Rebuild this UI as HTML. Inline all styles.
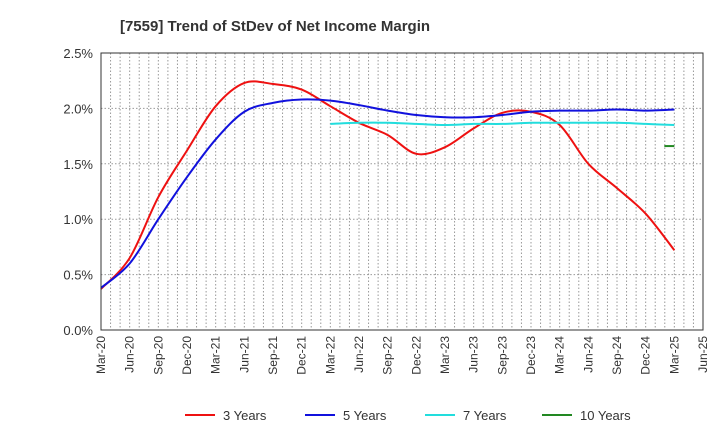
<!DOCTYPE html>
<html><head><meta charset="utf-8"><style>
body{margin:0;background:#fff;font-family:"Liberation Sans",sans-serif}
</style></head><body>
<svg id="c" width="720" height="440" xmlns="http://www.w3.org/2000/svg">
<text x="275" y="31" text-anchor="middle" font-size="15" font-weight="bold" fill="#333">[7559]  Trend of StDev of Net Income Margin</text>
<g id="grid"></g><g id="series"></g><g id="axes"></g><g id="legend"></g>
</svg>
<script>
const xLabels=["Mar-20","Jun-20","Sep-20","Dec-20","Mar-21","Jun-21","Sep-21","Dec-21","Mar-22","Jun-22","Sep-22","Dec-22","Mar-23","Jun-23","Sep-23","Dec-23","Mar-24","Jun-24","Sep-24","Dec-24","Mar-25","Jun-25"];
const yTicks=[0,0.5,1.0,1.5,2.0,2.5];
const s3=[0.37,0.65,1.2,1.62,2.02,2.23,2.22,2.17,2.02,1.87,1.76,1.59,1.65,1.82,1.96,1.97,1.85,1.5,1.28,1.05,0.72];
const s5=[0.38,0.6,1.0,1.38,1.72,1.97,2.05,2.08,2.07,2.03,1.98,1.94,1.92,1.92,1.94,1.97,1.98,1.98,1.99,1.98,1.99];
const s7=[null,null,null,null,null,null,null,null,1.86,1.87,1.87,1.86,1.85,1.86,1.86,1.87,1.87,1.87,1.87,1.86,1.85];
const s10=[null,null,null,null,null,null,null,null,null,null,null,null,null,null,null,null,null,null,null,null,1.66];
const L=101,R=703,T=53,B=330,NS="http://www.w3.org/2000/svg";
const X=i=>L+(R-L)*i/21, Y=v=>B-(B-T)*v/2.5;
function mk(t,a,p){const e=document.createElementNS(NS,t);for(const k in a)e.setAttribute(k,a[k]);p.appendChild(e);return e;}
const g=document.getElementById('grid'),ax=document.getElementById('axes'),se=document.getElementById('series'),lg=document.getElementById('legend');
for(let m=1;m<63;m++){const x=L+(R-L)*m/63;const l=mk('line',{x1:x,x2:x,y1:T,y2:B,stroke:'#999','stroke-dasharray':'1.5,2','stroke-width':1},g);
}
yTicks.forEach(v=>{const y=Y(v);if(v>0&&v<2.5){const l=mk('line',{x1:L,x2:R,y1:y,y2:y,stroke:'#999','stroke-dasharray':'1.5,2'},g);}
const t=mk('text',{x:L-8,y:y+5,'text-anchor':'end','font-size':13,fill:'#333'},ax);t.textContent=v.toFixed(1)+'%';
});
const fr=mk('rect',{x:L,y:T,width:R-L,height:B-T,fill:'none',stroke:'#333','stroke-width':1},ax);

xLabels.forEach((s,i)=>{const x=X(i);const t=mk('text',{x:x+4,y:B+6,'text-anchor':'end','font-size':12,fill:'#333',transform:`rotate(-90 ${x+4} ${B+6})`},ax);t.textContent=s;
});
function path(arr){const p=[];arr.forEach((v,i)=>{if(v!=null)p.push([X(i),Y(v)]);});
if(p.length==1)return `M${p[0][0]-10},${p[0][1]}L${p[0][0]},${p[0][1]}`;
let d=`M${p[0][0]},${p[0][1]}`;for(let i=0;i<p.length-1;i++){const a=p[i-1]||p[i],b=p[i],c=p[i+1],e=p[i+2]||c;
d+=`C${b[0]+(c[0]-a[0])/6},${b[1]+(c[1]-a[1])/6} ${c[0]-(e[0]-b[0])/6},${c[1]-(e[1]-b[1])/6} ${c[0]},${c[1]}`;}return d;}
const defs=[[s3,'#ee1111','3 Years','series-3-years'],[s5,'#1111dd','5 Years','series-5-years'],[s7,'#22dddd','7 Years','series-7-years'],[s10,'#228822','10 Years','series-10-years']];
defs.forEach(([a,c,n,id],k)=>{const p=mk('path',{d:path(a),fill:'none',stroke:c,'stroke-width':2},se);

const lx=[185,305,425,542][k];const l=mk('line',{x1:lx,x2:lx+30,y1:415,y2:415,stroke:c,'stroke-width':2},lg);

const t=mk('text',{x:lx+38,y:420,'font-size':13,fill:'#333'},lg);t.textContent=n;
});
</script>
</body></html>
